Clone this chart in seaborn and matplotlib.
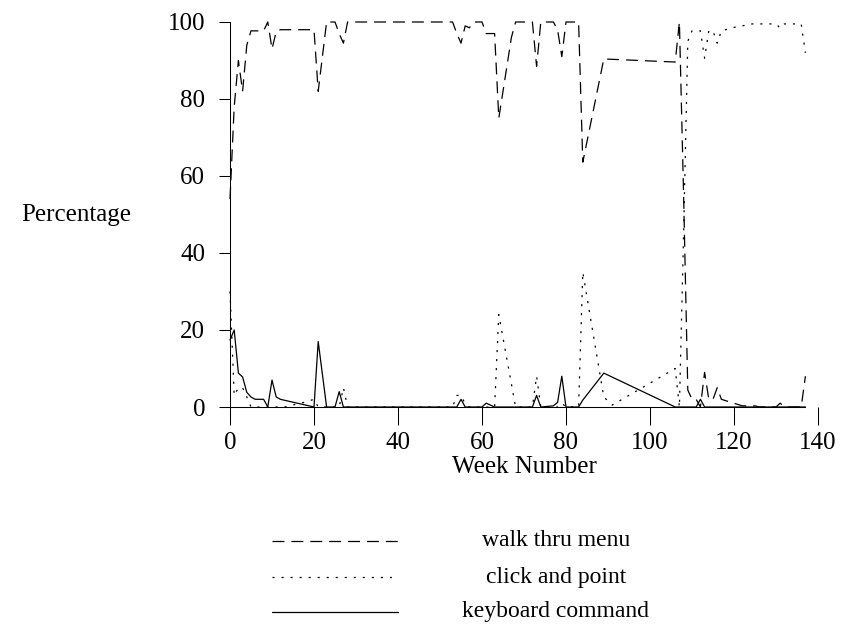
import matplotlib
matplotlib.use("Agg")
import matplotlib.pyplot as plt
import seaborn as sns
import pandas as pd
from matplotlib.lines import Line2D

# ---------------- data ----------------
walk_weeks = [0, 1, 2, 3, 4, 5, 8, 9, 10, 11, 12, 20, 21, 22, 23, 25, 26, 27, 28,
              53, 54, 55, 56, 57, 58, 60, 61, 63, 64, 65, 66, 67, 68, 72, 73, 74,
              77, 78, 79, 80, 83, 84, 89, 106, 107, 108, 109, 110, 111, 112, 113,
              114, 115, 116, 117, 119, 122, 125, 126, 130, 131, 132, 136, 137]
walk_pct = [54, 78, 90, 82, 94, 97.7, 97.7, 100, 93, 97.5, 98, 98, 82, 91, 100, 100, 97, 94.5, 100,
            100, 97, 94.5, 99, 98.5, 100, 100, 97, 97, 75, 82, 89, 96, 100, 100, 88.5, 100,
            100, 98, 91, 100, 100, 63.6, 90.4, 89.6, 100, 55, 4.4, 2, 2, 0, 9,
            2, 2, 5, 2, 1.3, 0.3, 0.3, 0, 0, 1, 0, 0, 8]

click_weeks = [0, 1, 2, 3, 4, 5, 13, 18, 20, 21, 26, 27, 28, 53, 54, 55, 56, 57,
               63, 64, 68, 72, 73, 74, 78, 79, 80, 83, 84, 89, 91, 106, 107, 108,
               109, 110, 112, 113, 114, 115, 116, 117, 118, 119, 120, 122, 124,
               130, 131, 132, 136, 137]
click_pct = [30, 3, 5, 5, 2.6, 0, 0, 1.3, 2, 0, 0, 5, 0, 0, 3, 3, 0.8, 0,
             0, 24, 0, 0, 8, 0, 0, 1, 0, 0, 35, 2.6, 0.5, 10, 0, 45,
             95, 97.7, 97.7, 90.6, 97.7, 97.7, 94.5, 97.7, 98, 98.3, 98.6, 99, 99.5,
             99.5, 98.4, 99.5, 99.5, 92]

kb_weeks = [0, 1, 2, 3, 4, 5, 6, 8, 9, 10, 11, 12, 20, 21, 22, 23, 25, 26, 27,
            54, 55, 56, 60, 61, 63, 72, 73, 74, 77, 78, 79, 80, 83, 84, 89, 106,
            111, 112, 113, 137]
kb_pct = [17.4, 20, 8.8, 7.8, 3.8, 2.6, 2, 2, 0, 7, 2.6, 2, 0, 17, 8.5, 0, 0, 4, 0,
          0, 2, 0, 0, 1, 0, 0, 3, 0, 0.3, 1.2, 8, 0, 0, 1.8, 8.8, 0,
          0, 2, 0, 0]

series_names = ["walk thru menu", "click and point", "keyboard command"]
x_ticks = [0, 20, 40, 60, 80, 100, 120, 140]
y_ticks = [0, 20, 40, 60, 80, 100]

# ---------------- style ----------------
sns.set_theme(style="white")
plt.rcParams["font.family"] = ["Liberation Serif", "DejaVu Serif"]
plt.rcParams["lines.scale_dashes"] = False
FS = 18
FS_LEG = 17

W, H = 842, 630
fig = plt.figure(figsize=(W / 100, H / 100), dpi=100)
fig.patch.set_facecolor("white")
ax = fig.add_axes([230 / W, (H - 407) / H, (818 - 230) / W, (407 - 22) / H])

df = pd.concat([
    pd.DataFrame({"week": walk_weeks, "pct": walk_pct, "method": series_names[0]}),
    pd.DataFrame({"week": click_weeks, "pct": click_pct, "method": series_names[1]}),
    pd.DataFrame({"week": kb_weeks, "pct": kb_pct, "method": series_names[2]}),
], ignore_index=True)

DASH = (8.6, 5.0)
DOT = (1.5, 5.0)
dash_map = {series_names[0]: DASH, series_names[1]: DOT, series_names[2]: ""}

sns.lineplot(data=df, x="week", y="pct", style="method", dashes=dash_map,
             color="black", linewidth=0.9, estimator=None, errorbar=None,
             sort=False, legend=False, ax=ax)
for ln in ax.lines:
    ln.set_clip_on(False)
    ln.set_dash_capstyle("butt")

ax.set_xlim(0, 140)
ax.set_ylim(0, 100)
ax.set_xticks(x_ticks)
ax.set_yticks(y_ticks)
ax.tick_params(axis="x", direction="out", length=13, width=0.75, pad=5,
               labelsize=FS, colors="black", bottom=True)
ax.tick_params(axis="y", direction="out", length=8, width=0.75, pad=10,
               labelsize=FS, colors="black", left=True)
for s in ["top", "right"]:
    ax.spines[s].set_visible(False)
for s in ["left", "bottom"]:
    ax.spines[s].set_color("black")
    ax.spines[s].set_linewidth(0.75)
ax.spines["bottom"].set_bounds(0, 137)
ax.grid(False)
ax.set_facecolor("white")

ax.set_xlabel("Week Number", fontsize=FS, color="black", va="center")
ax.xaxis.set_label_coords(0.5, (407 - 467) / 385)
ax.set_ylabel("Percentage", fontsize=FS, color="black", rotation=0,
              ha="center", va="center")
ax.yaxis.set_label_coords((76 - 230) / 588, (407 - 215) / 385)

# legend drawn below the plot
leg_rows = [(541, series_names[0], (0, DASH)),
            (577, series_names[1], (0, DOT)),
            (612, series_names[2], "-")]
for ypx, lab, ls in leg_rows:
    fig.add_artist(Line2D([272 / W, 398 / W], [1 - ypx / H] * 2,
                          transform=fig.transFigure, color="black",
                          linewidth=0.9, linestyle=ls, dash_capstyle="butt"))
    fig.text(556 / W, 1 - ypx / H, lab, ha="center", va="center",
             fontsize=FS_LEG, color="black")

fig.savefig("out.png", dpi=100, facecolor="white")
